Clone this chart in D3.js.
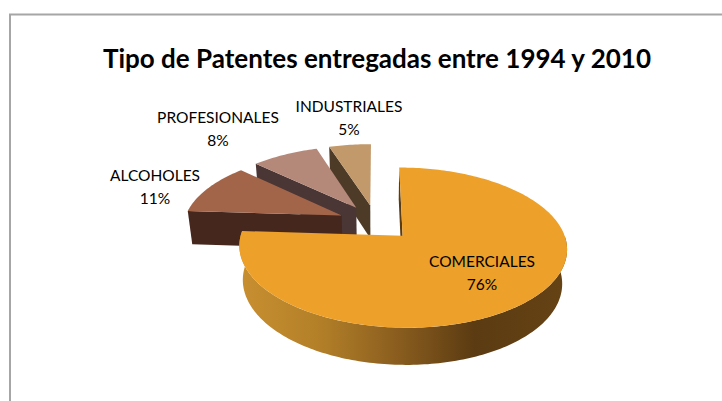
<!DOCTYPE html>
<html><head><meta charset="utf-8">
<script src="https://cdn.jsdelivr.net/npm/d3@7"></script>
<style>html,body{margin:0;background:#fff}svg{display:block}</style></head>
<body><svg id="c" width="722" height="401"></svg>
<script>
const categories=["COMERCIALES","ALCOHOLES","PROFESIONALES","INDUSTRIALES"];
const values=[76,11,8,5];
const topColors=["#EDA02A","#A3654A","#B5897A","#C2996B"];
const wallColors=["#5B3B12","#45271E","#4A3634","#4D3B28"];
const title="Tipo de Patentes entregadas entre 1994 y 2010";
const labelX=[482,155,218,349];
const labelY=[262,176,118,107];

const svg=d3.select("#c");
const cx=376,cy=222.5,A=158,B=74.5,D=34.5,b=.143,c=.025,e=.24;
const pie=d3.pie().sort(null).value(d=>d);
const arcs=pie(values);
function proj(u,v,h){const den=1-b*v+c*h;return [cx+A*u/den,cy+(B*v+D*h)/den];}
const line=d3.line();
function pt(a,r,off,h){return proj(off[0]+r*Math.sin(a),off[1]-r*Math.cos(a),h);}
function arcPts(a0,a1,off,h){const n=Math.max(2,Math.ceil((a1-a0)/0.02));return d3.range(n+1).map(i=>pt(a0+(a1-a0)*i/n,1,off,h));}

const defs=svg.append("defs");
const g=defs.append("linearGradient").attr("id","w").attr("gradientUnits","userSpaceOnUse").attr("x1",240).attr("x2",565).attr("y1",0).attr("y2",0);
[[0,"#C88F30"],[.25,"#B27F28"],[.5,"#875B1E"],[.72,"#5B3B12"],[1,"#664315"]].forEach(s=>g.append("stop").attr("offset",s[0]).attr("stop-color",s[1]));

svg.append("rect").attr("width",722).attr("height",401).attr("fill","#fff");
svg.append("path").attr("d","M10,401V14.5H722").attr("fill","none").attr("stroke","#A6A6A6").attr("stroke-width",2);

[3,2,1,0].forEach(i=>{
  const s=arcs[i],mid=(s.startAngle+s.endAngle)/2;
  const off=[e*Math.sin(mid),-e*Math.cos(mid)];
  const G=svg.append("g");
  const wall=(a)=>[pt(a,0,off,0),pt(a,1,off,0),pt(a,1,off,1),pt(a,0,off,1)];
  if(i===0){
    G.append("path").attr("d",line(wall(s.startAngle))+"Z").attr("fill",wallColors[i]);
    const f=Math.PI/2*3,top=arcPts(Math.PI/2,Math.min(s.endAngle,f+.1),off,0),bot=arcPts(Math.PI/2,Math.min(s.endAngle,f+.1),off,1).reverse();
    G.append("path").attr("d",line(top.concat(bot))+"Z").attr("fill","url(#w)");
  }else{
    G.append("path").attr("d",line(wall(s.startAngle))+"Z").attr("fill",wallColors[i]);
  }
  const face=[pt(0,0,off,0)].concat(arcPts(s.startAngle,s.endAngle,off,0));
  G.append("path").attr("d",line(face)+"Z").attr("fill",topColors[i]);
});

svg.append("text").attr("x",377).attr("y",68).attr("text-anchor","middle").attr("font-family","Lato").attr("font-weight",700).attr("font-size",26).attr("fill","#000").text(title);
categories.forEach((n,i)=>{
  const t=svg.append("text").attr("text-anchor","middle").attr("font-family","Lato").attr("font-size",15.5).attr("fill","#000");
  t.append("tspan").attr("x",labelX[i]).attr("y",labelY[i]+5).text(n);
  t.append("tspan").attr("x",labelX[i]).attr("y",labelY[i]+28).text(values[i]+"%");
});
</script></body></html>
